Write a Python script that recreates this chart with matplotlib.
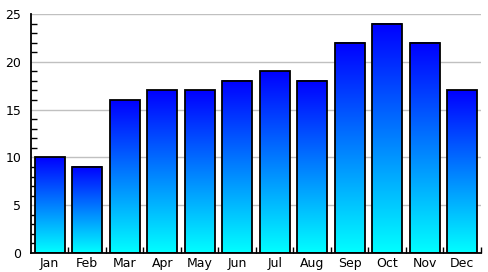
import numpy as np
import matplotlib
matplotlib.use("Agg")
import matplotlib.pyplot as plt
from matplotlib.colors import LinearSegmentedColormap
from matplotlib.ticker import MultipleLocator

# Data
months = ["Jan", "Feb", "Mar", "Apr", "May", "Jun", "Jul", "Aug", "Sep", "Oct", "Nov", "Dec"]
values = [10, 9, 16, 17, 17, 18, 19, 18, 22, 24, 22, 17]

fig = plt.figure(figsize=(4.89, 2.72), dpi=100)
ax = fig.add_axes([0.0634, 0.0699, 0.92, 0.8786])

# cyan at the bottom, blue at the top of every bar
cmap = LinearSegmentedColormap.from_list("cb", ["#00ffff", "#0000ff"])
grad = np.linspace(0, 1, 256).reshape(-1, 1)

width = 0.8
for i, v in enumerate(values):
    x0 = i - width / 2
    ax.imshow(grad, extent=(x0, x0 + width, 0, v), origin="lower",
              cmap=cmap, aspect="auto", zorder=2)
    ax.bar(i, v, width=width, facecolor="none", edgecolor="black",
           linewidth=1.3, zorder=3)

ax.set_xlim(-0.5, len(months) - 0.5)
ax.set_ylim(0, 25)

ax.set_xticks(range(len(months)))
ax.set_xticklabels(months)
ax.set_xticks(np.arange(0.5, len(months), 1), minor=True)
ax.tick_params(axis="x", which="major", length=0, pad=3, labelsize=9)
ax.tick_params(axis="x", which="minor", length=4, direction="in", width=1)

ax.yaxis.set_major_locator(MultipleLocator(5))
ax.yaxis.set_minor_locator(MultipleLocator(1))
ax.tick_params(axis="y", which="major", length=0, pad=7, labelsize=9)
ax.tick_params(axis="y", which="minor", length=4, direction="in", width=1)

ax.grid(axis="y", color="#c0c0c0", linewidth=1, zorder=0)
ax.set_axisbelow(True)

for s in ["top", "right"]:
    ax.spines[s].set_visible(False)
for s in ["left", "bottom"]:
    ax.spines[s].set_linewidth(1.3)

fig.savefig("out.png", dpi=100)
